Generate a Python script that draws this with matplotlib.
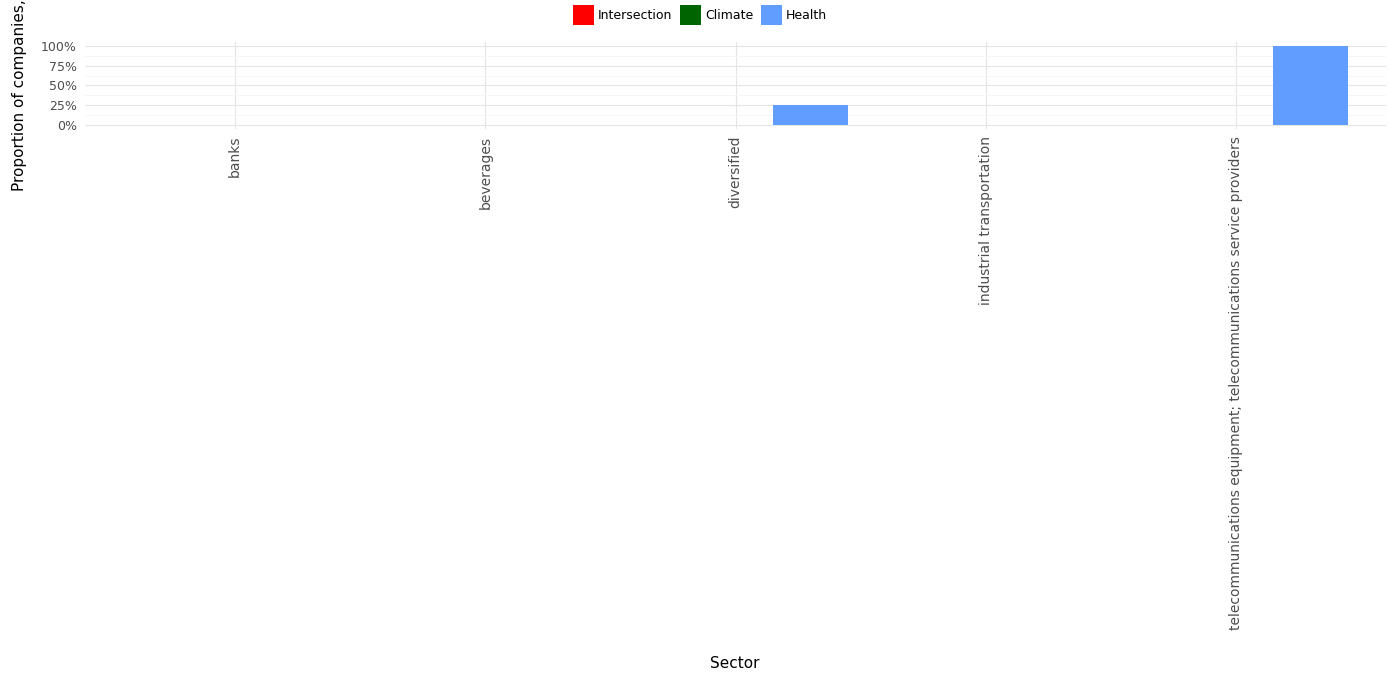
import matplotlib.pyplot as plt
import numpy as np
from matplotlib.patches import Patch
from matplotlib.ticker import FuncFormatter, MultipleLocator

sectors = [
    "banks",
    "beverages",
    "diversified",
    "industrial transportation",
    "telecommunications equipment; telecommunications service providers",
]
series_names = ["Intersection", "Climate", "Health"]
series_colors = ["#FF0000", "#006400", "#619CFF"]
intersection = [0.0, 0.0, 0.0, 0.0, 0.0]
climate = [0.0, 0.0, 0.0, 0.0, 0.0]
health = [0.0, 0.0, 0.25, 0.0, 1.0]

fig = plt.figure(figsize=(14, 7), dpi=100)
ax = fig.add_axes([85 / 1400, 1 - 129 / 700, 1301 / 1400, 87 / 700])

x = np.arange(len(sectors))
width = 0.3
for i, (name, vals, col) in enumerate(zip(series_names, [intersection, climate, health], series_colors)):
    ax.bar(x + (i - 1) * width, vals, width=width, color=col, linewidth=0, label=name, zorder=3)

ax.set_xlim(-0.6, len(sectors) - 0.4)
ax.set_ylim(-0.05, 1.05)
ax.set_xticks(x)
ax.set_xticklabels(sectors, rotation=90, va="top", ha="center", fontsize=10, color="#4D4D4D")
ax.yaxis.set_major_locator(MultipleLocator(0.25))
ax.yaxis.set_minor_locator(MultipleLocator(0.125))
ax.yaxis.set_major_formatter(FuncFormatter(lambda v, _: f"{v * 100:.0f}%"))
ax.tick_params(axis="y", labelsize=9, labelcolor="#4D4D4D", length=0, pad=6)
ax.tick_params(axis="y", which="minor", length=0)
ax.tick_params(axis="x", length=0, pad=5)

ax.grid(which="major", color="#E5E5E5", linewidth=0.8, zorder=0)
ax.grid(which="minor", axis="y", color="#F5F5F5", linewidth=0.6, zorder=0)
for s in ax.spines.values():
    s.set_visible(False)

fig.text(20 / 1400, 1 - 85 / 700, "Proportion of companies, %", rotation=90,
         ha="center", va="center", fontsize=11)
fig.text(735 / 1400, 1 - 664 / 700, "Sector", ha="center", va="center", fontsize=11)

handles = [Patch(facecolor=c, label=n) for n, c in zip(series_names, series_colors)]
fig.legend(handles=handles, loc="center", bbox_to_anchor=(0.5, 1 - 15 / 700), ncol=3,
           frameon=False, fontsize=9, handlelength=1.7, handleheight=2.0,
           handletextpad=0.3, columnspacing=0.6)

fig.savefig("out.png", dpi=100)
